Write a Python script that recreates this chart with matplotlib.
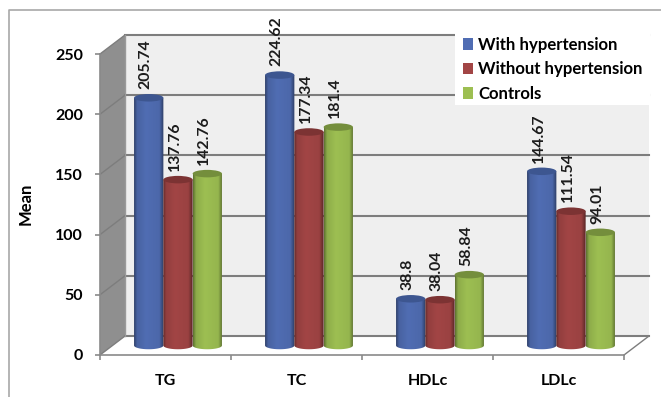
import matplotlib
matplotlib.use('Agg')
import matplotlib.pyplot as plt
import numpy as np
from matplotlib.lines import Line2D
from matplotlib.patches import Ellipse, PathPatch, Polygon, Rectangle
from matplotlib.path import Path

plt.rcParams['font.family'] = ['Lato', 'DejaVu Sans']

categories = ['TG', 'TC', 'HDLc', 'LDLc']
with_hypertension = [205.74, 224.62, 38.8, 144.67]
without_hypertension = [137.76, 177.34, 38.04, 111.54]
controls = [142.76, 181.4, 58.84, 94.01]
value_labels = [['205.74', '224.62', '38.8', '144.67'],
                ['137.76', '177.34', '38.04', '111.54'],
                ['142.76', '181.4', '58.84', '94.01']]
series_names = ['With hypertension', 'Without hypertension', 'Controls']
series_colors = ['#506db3', '#a24545', '#9dbf52']
top_colors = ['#3d5690', '#7c3333', '#748e3c']
yticks = [0, 50, 100, 150, 200, 250]

W, H = 661, 397
x0, x1, y0, y1 = 100, 624, 355, 54

fig = plt.figure(figsize=(W / 100, H / 100), dpi=100)
ax = fig.add_axes([x0 / W, 1 - y0 / H, (x1 - x0) / W, (y0 - y1) / H])
ax.set_xlim(-0.5, 3.5)
ax.set_ylim(0, 250)

# depth of the fake 3d box, in data units
dx = 25 / 131
dy = 19 * 250 / 301
left, right = -0.5, 3.5
grid_col = '#7d7d7d'

# walls
ax.add_patch(Polygon([(left + dx, dy), (right + dx, dy), (right + dx, 250 + dy), (left + dx, 250 + dy)],
                     fc='#efefef', ec='none', zorder=0, clip_on=False))
ax.add_patch(Polygon([(left, 0), (left + dx, dy), (left + dx, 250 + dy), (left, 250)],
                     fc='#8f8f8f', ec='none', zorder=0.5, clip_on=False))
for v in yticks:
    ax.plot([left + dx, right + dx], [v + dy, v + dy], color=grid_col, lw=1.5, zorder=1, clip_on=False)
    ax.plot([left, left + dx], [v, v + dy], color=grid_col, lw=1, zorder=1, clip_on=False)
ax.plot([right, right + dx], [0, dy], color=grid_col, lw=1, zorder=1, clip_on=False)
ax.plot([left + dx, left + dx], [dy, 250 + dy], color='#9a9a9a', lw=1, zorder=1, clip_on=False)

# cylinders
bar_w = 29.3 / 131
ell_h = 7.5 * 250 / 301
shade = np.interp(np.linspace(0, 1, 64), [0, 0.1, 0.4, 0.85, 1], [0.6, 0.9, 1.0, 0.95, 0.55])
series = [with_hypertension, without_hypertension, controls]
for s, vals in enumerate(series):
    rgb = np.array(matplotlib.colors.to_rgb(series_colors[s]))
    grad = (shade[:, None] * rgb)[None, :, :]
    for i, v in enumerate(vals):
        cx = i + dx / 2 + (s - 1) * bar_w
        xl, xr = cx - bar_w / 2, cx + bar_w / 2
        yb, yt = dy / 2, v + dy / 2
        n = 40
        t = np.linspace(np.pi, 2 * np.pi, n)
        bx = cx + bar_w / 2 * np.cos(t)
        by = yb + ell_h / 2 * np.sin(t)
        verts = list(zip(bx, by)) + [(xr, yt), (xl, yt), (bx[0], by[0])]
        clip = PathPatch(Path(verts), transform=ax.transData, fc='none', ec='none')
        ax.add_patch(clip)
        im = ax.imshow(grad, extent=[xl, xr, yb - ell_h, yt], aspect='auto', zorder=2 + s * 0.1 + i)
        im.set_clip_path(clip)
        ax.add_patch(Ellipse((cx, yt), bar_w, ell_h, fc=top_colors[s], ec='none',
                             zorder=2.05 + s * 0.1 + i, clip_on=False))
        ax.annotate(value_labels[s][i], (cx, yt + ell_h / 2), xytext=(-3, 5), textcoords='offset pixels',
                    rotation=90, ha='center', va='bottom', fontsize=11.4, fontweight='bold',
                    color='#1c1c1c', zorder=20, annotation_clip=False)

ax.set_xlim(-0.5, 3.5)
ax.set_ylim(0, 250)

# axes
for side in ['top', 'right']:
    ax.spines[side].set_visible(False)
for side in ['left', 'bottom']:
    ax.spines[side].set_color('#8a8a8a')
    ax.spines[side].set_linewidth(1.2)
    ax.spines[side].set_zorder(1.5)
ax.set_yticks(yticks)
ax.set_xticks(np.arange(-0.5, 4, 1))
ax.set_xticklabels([])
ax.set_xticks(range(4), categories, minor=True)
ax.tick_params(axis='x', which='major', length=3.8, width=1.2, color='#8a8a8a')
ax.tick_params(axis='x', which='minor', length=0, pad=13.5, labelsize=11.5)
ax.tick_params(axis='y', length=3.6, width=1.2, color='#8a8a8a', pad=8.6, labelsize=11.5)
for lab in ax.get_yticklabels() + ax.get_xticklabels(minor=True):
    lab.set_fontweight('bold')
ax.set_ylabel('Mean', fontweight='bold', fontsize=12)
ax.yaxis.set_label_coords((34 - x0) / (x1 - x0), (y0 - 204) / (y0 - y1))

# legend on white box
fig.add_artist(Rectangle((455 / W, 1 - 105 / H), 195 / W, 72 / H, transform=fig.transFigure,
                         fc='white', ec='none', zorder=5))
handles = [Rectangle((0, 0), 1, 1, fc=c, ec='none') for c in series_colors]
leg = fig.legend(handles, series_names, loc='upper left', bbox_to_anchor=(458 / W, 1 - 32 / H),
                 frameon=False, prop={'weight': 'bold', 'size': 12.1}, handlelength=0.6, handleheight=0.7,
                 handletextpad=0.3, labelspacing=0.5, borderaxespad=0, borderpad=0.3)
leg.set_zorder(6)

# outer frame
fig.add_artist(Line2D([9 / W, 9 / W, 1], [0, 1 - 10 / H, 1 - 10 / H], color='#a8a8a8', lw=1.2))

fig.savefig('out.png', dpi=100)
